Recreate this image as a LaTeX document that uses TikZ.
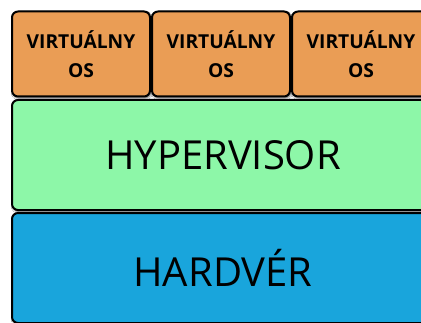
\documentclass[tikz,border=0pt]{standalone}
\usepackage{fontspec}
\setmainfont{Open Sans}
\usetikzlibrary{shadows.blur}

\definecolor{osorange}{RGB}{234,157,85}
\definecolor{hvgreen}{RGB}{141,247,168}
\definecolor{hwblue}{RGB}{25,165,220}

\tikzset{
    layer/.style={draw=black, line width=2pt, rounded corners=6pt,
        blur shadow={shadow xshift=1pt, shadow yshift=-1.5pt,
            shadow blur radius=2pt, shadow opacity=70},
        inner sep=0pt, align=center},
    osbox/.style={layer, fill=osorange, minimum width=138pt, minimum height=85pt,
        font=\fontsize{19.2}{28.5}\selectfont\bfseries},
    bigbox/.style={layer, minimum width=422pt, minimum height=110pt,
        font=\fontsize{40}{44}\selectfont}
}

\begin{document}
\begin{tikzpicture}[x=1pt,y=1pt]
    \useasboundingbox[fill=white] (0,0) rectangle (421,322);

    % Virtual machines on top
    \foreach \i/\x in {1/81, 2/221, 3/361} {
        \node[osbox] (os\i) at (\x,268) {VIRTUÁLNY\\OS};
    }

    % Hypervisor layer
    \node[bigbox, fill=hvgreen] (hyper) at (223,167) {HYPERVISOR};

    % Hardware layer
    \node[bigbox, fill=hwblue] (hw) at (223,54) {HARDVÉR};

\end{tikzpicture}
\end{document}
